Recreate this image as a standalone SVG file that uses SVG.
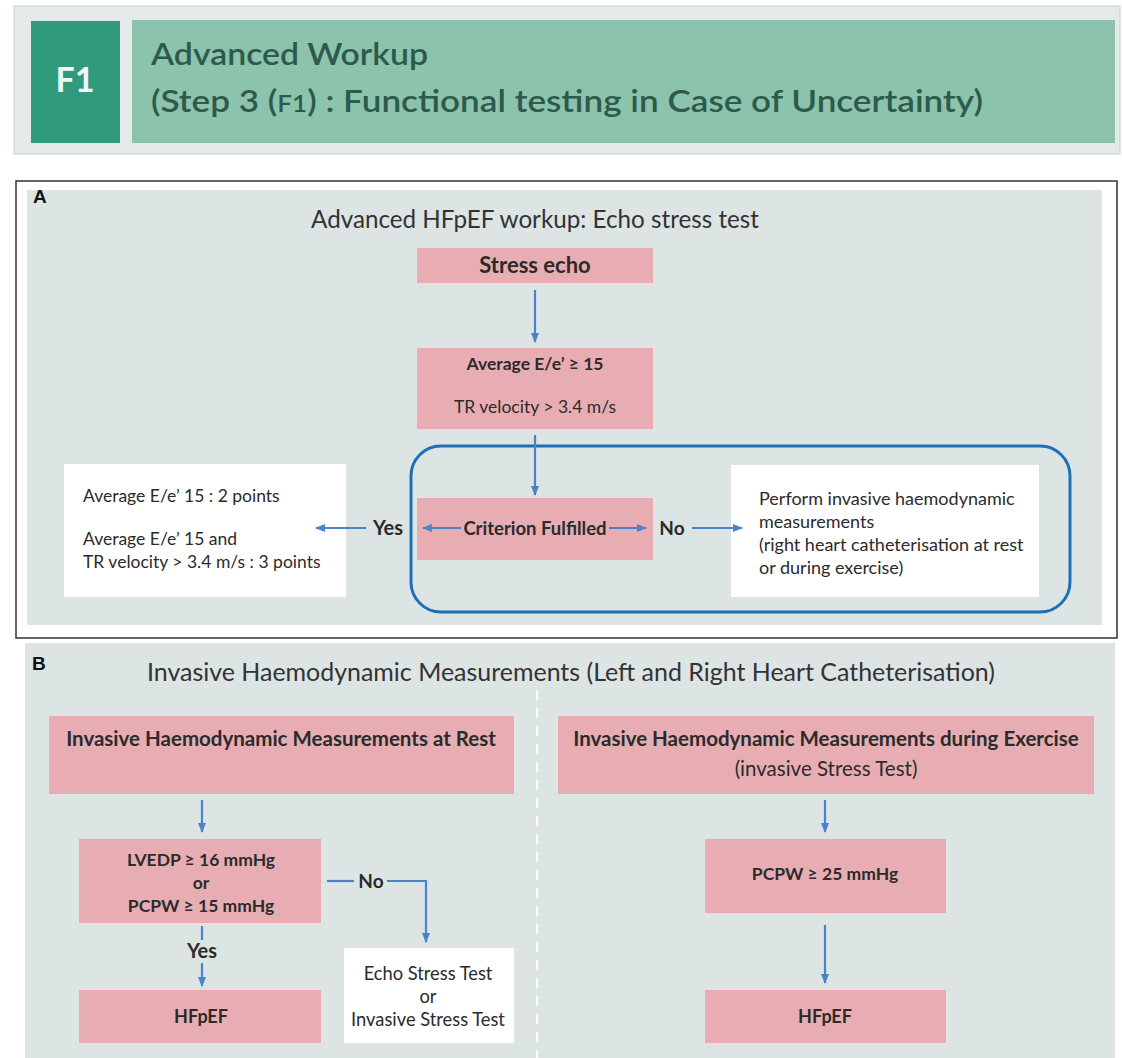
<svg xmlns="http://www.w3.org/2000/svg" width="1122" height="1058" viewBox="0 0 1122 1058">
<style>
text{font-family:Lato,"Noto Sans","Liberation Sans",sans-serif;fill:#2b2b2b}
.pink{fill:#e8adb3}
.white{fill:#ffffff}
.panel{fill:#dce4e4}
.b{font-weight:bold}
.mid{text-anchor:middle}
.conn line,.conn polyline{stroke:#4a82cc;stroke-width:2.2;fill:none}
.hd{font-size:31px;fill:#2e5a4b;font-weight:600}
.ttl{font-size:25px;fill:#333}
.lbl{font-family:"Liberation Sans",Arial,sans-serif;font-weight:bold;font-size:19px;fill:#111}
</style>
<defs>
<marker id="ah" markerWidth="10" markerHeight="10" refX="9" refY="5" orient="auto" markerUnits="userSpaceOnUse">
<path d="M0,1 L10,5 L0,9 Z" fill="#4a82cc"/>
</marker>
</defs>
<rect width="1122" height="1058" fill="#ffffff"/>
<g id="header">
<rect x="14" y="6" width="1106" height="148" fill="#e4e9e9" stroke="#c9cfcf" stroke-width="1"/>
<rect x="31" y="21" width="89" height="122" fill="#2f9a7c"/>
<text x="75" y="92" class="mid b" style="font-size:34px;fill:#eef8f4">F1</text>
<rect x="132" y="20" width="983" height="123" fill="#8cc3ad"/>
<text x="151" y="65" class="hd" textLength="277" lengthAdjust="spacingAndGlyphs">Advanced Workup</text>
<text x="151" y="112" class="hd" textLength="832" lengthAdjust="spacingAndGlyphs">(Step 3 (<tspan style="font-size:23px">F1</tspan>) : Functional testing in Case of Uncertainty)</text>
</g>
<g id="sectionA">
<rect x="16" y="181" width="1101" height="457" fill="#ffffff" stroke="#333" stroke-width="1.5"/>
<rect x="27" y="190" width="1075" height="435" class="panel"/>
<text x="33" y="203" class="lbl">A</text>
<text x="535" y="228" class="mid ttl" textLength="448" lengthAdjust="spacingAndGlyphs">Advanced HFpEF workup: Echo stress test</text>
</g>
<g id="group-box">
<rect x="411" y="446" width="659" height="166" rx="30" fill="none" stroke="#1f6fb8" stroke-width="3"/>
</g>
<g id="stress-echo">
<rect x="417" y="248" width="236" height="35" class="pink"/>
<text x="535" y="273" class="mid b" style="font-size:22px">Stress echo</text>
</g>
<g id="average-ee">
<rect x="417" y="348" width="236" height="81" class="pink"/>
<text x="535" y="370" class="mid b" style="font-size:17.5px">Average E/e’ ≥ 15</text>
<text x="535" y="413" class="mid" style="font-size:17.5px">TR velocity &gt; 3.4 m/s</text>
</g>
<g id="criterion">
<rect x="417" y="498" width="236" height="62" class="pink"/>
<text x="535" y="535" class="mid b" style="font-size:18.5px">Criterion Fulfilled</text>
</g>
<g id="points">
<rect x="64" y="464" width="282" height="133" class="white"/>
<text x="83" y="502" style="font-size:17.5px">Average E/e’ 15 : 2 points</text>
<text x="83" y="545" style="font-size:17.5px">Average E/e’ 15 and</text>
<text x="83" y="568" style="font-size:17.5px">TR velocity &gt; 3.4 m/s : 3 points</text>
</g>
<g id="perform-invasive">
<rect x="731" y="465" width="308" height="132" class="white"/>
<text x="759" y="505" style="font-size:18px">Perform invasive haemodynamic</text>
<text x="759" y="528" style="font-size:18px">measurements</text>
<text x="759" y="551" style="font-size:18px">(right heart catheterisation at rest</text>
<text x="759" y="574" style="font-size:18px">or during exercise)</text>
</g>
<g id="sectionB">
<rect x="25" y="643" width="1090" height="415" class="panel"/>
<line x1="537" y1="690" x2="537" y2="1058" stroke="#ffffff" stroke-width="2" stroke-dasharray="10,8"/>
<text x="32" y="670" class="lbl">B</text>
<text x="571" y="681" class="mid ttl" textLength="848" lengthAdjust="spacingAndGlyphs">Invasive Haemodynamic Measurements (Left and Right Heart Catheterisation)</text>
</g>
<g id="rest">
<rect x="49" y="716" width="465" height="78" class="pink"/>
<text x="281" y="746" class="mid b" style="font-size:20.5px">Invasive Haemodynamic Measurements at Rest</text>
</g>
<g id="lvedp">
<rect x="79" y="839" width="242" height="84" class="pink"/>
<text x="201" y="866" class="mid b" style="font-size:17.5px">LVEDP ≥ 16 mmHg</text>
<text x="201" y="889" class="mid b" style="font-size:17.5px">or</text>
<text x="201" y="912" class="mid b" style="font-size:17.5px">PCPW ≥ 15 mmHg</text>
</g>
<g id="echo-or-invasive">
<rect x="344" y="948" width="170" height="95" class="white"/>
<text x="428" y="980" class="mid" style="font-size:18.3px">Echo Stress Test</text>
<text x="428" y="1003" class="mid" style="font-size:18.3px">or</text>
<text x="428" y="1026" class="mid" style="font-size:18.3px">Invasive Stress Test</text>
</g>
<g id="hfpef-left">
<rect x="79" y="990" width="242" height="53" class="pink"/>
<text x="201" y="1023" class="mid b" style="font-size:18px">HFpEF</text>
</g>
<g id="exercise">
<rect x="558" y="716" width="536" height="78" class="pink"/>
<text x="826" y="746" class="mid b" style="font-size:20.5px">Invasive Haemodynamic Measurements during Exercise</text>
<text x="826" y="776" class="mid" style="font-size:20.5px">(invasive Stress Test)</text>
</g>
<g id="pcpw">
<rect x="705" y="839" width="241" height="74" class="pink"/>
<text x="825" y="880" class="mid b" style="font-size:17.5px">PCPW ≥ 25 mmHg</text>
</g>
<g id="hfpef-right">
<rect x="705" y="990" width="241" height="53" class="pink"/>
<text x="825" y="1023" class="mid b" style="font-size:18px">HFpEF</text>
</g>
<g id="connectors" class="conn">
<line x1="535" y1="290" x2="535" y2="342" marker-end="url(#ah)"/>
<line x1="535" y1="435" x2="535" y2="495" marker-end="url(#ah)"/>
<line x1="366" y1="528" x2="316" y2="528" marker-end="url(#ah)"/>
<line x1="461" y1="528" x2="423" y2="528" marker-end="url(#ah)"/>
<line x1="609" y1="528" x2="646" y2="528" marker-end="url(#ah)"/>
<line x1="692" y1="528" x2="742" y2="528" marker-end="url(#ah)"/>
<line x1="202" y1="800" x2="202" y2="832" marker-end="url(#ah)"/>
<line x1="327" y1="881" x2="354" y2="881"/>
<polyline points="387,881 426,881 426,942" marker-end="url(#ah)"/>
<line x1="202" y1="926" x2="202" y2="940"/>
<line x1="202" y1="963" x2="202" y2="986" marker-end="url(#ah)"/>
<line x1="825" y1="800" x2="825" y2="832" marker-end="url(#ah)"/>
<line x1="825" y1="925" x2="825" y2="983" marker-end="url(#ah)"/>
<text x="388" y="535" class="mid b" style="font-size:20px">Yes</text>
<text x="672" y="535" class="mid b" style="font-size:19px">No</text>
<text x="371" y="888" class="mid b" style="font-size:19px">No</text>
<text x="202" y="958" class="mid b" style="font-size:20px">Yes</text>
</g>
</svg>
